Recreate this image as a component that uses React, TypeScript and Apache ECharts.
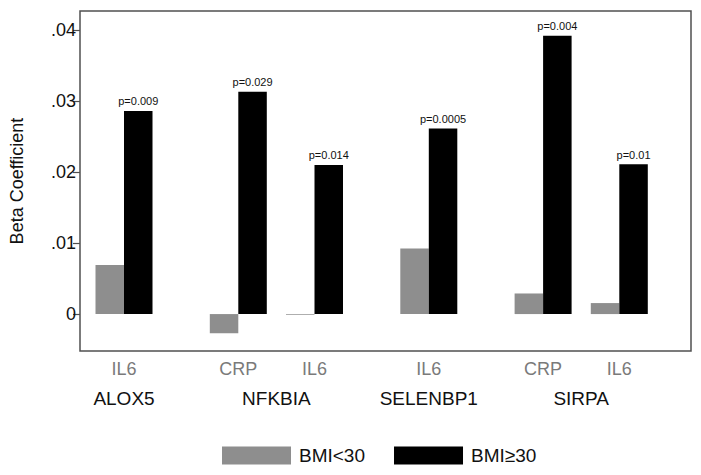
import React, { useEffect, useRef } from "react";
import * as echarts from "echarts";

const outcomeX = [0, 3, 5, 8, 11, 13];
const outcomes = ["IL6", "CRP", "IL6", "IL6", "CRP", "IL6"];
const geneX = [0, 4, 8, 12];
const genes = ["ALOX5", "NFKBIA", "SELENBP1", "SIRPA"];
const bmiLow = [0.0069, -0.0027, -0.0001, 0.00925, 0.0029, 0.00155];
const bmiHigh = [0.0286, 0.0313, 0.021, 0.02615, 0.0392, 0.0211];
const pValues = ["p=0.009", "p=0.029", "p=0.014", "p=0.0005", "p=0.004", "p=0.01"];
const yTicks = [0, 0.01, 0.02, 0.03, 0.04];
const seriesNames = ["BMI<30", "BMI\u226530"];
const SLOTS = 14;

const FONT = "'Liberation Sans', Arial, Helvetica, sans-serif";
const Y_MIN = -0.0052;
const Y_MAX = 0.04268;

const slotIds = Array.from({ length: SLOTS }, (_, i) => "s" + i);
const slotSeries = (vals: number[]) => {
  const arr: (number | null)[] = slotIds.map(() => null);
  outcomeX.forEach((x, i) => {
    arr[x] = vals[i];
  });
  return arr;
};
const outcomeAt = (i: number) => {
  const k = outcomeX.indexOf(i);
  return k >= 0 ? outcomes[k] : "";
};
const geneAt = (i: number) => {
  const k = geneX.indexOf(i);
  return k >= 0 ? genes[k] : "";
};

export default function App() {
  const ref = useRef<HTMLDivElement>(null);
  useEffect(() => {
    if (!ref.current) return;
    const chart = echarts.init(ref.current, undefined, { renderer: "svg" });
    chart.setOption({
      animation: false,
      backgroundColor: "#ffffff",
      textStyle: { fontFamily: FONT },
      grid: [
        {
          left: 71,
          top: 11,
          width: 620,
          height: 340,
          show: true,
          borderColor: "#505050",
          borderWidth: 1.5,
        },
        {
          left: 104.95,
          top: 11,
          width: 533.4,
          height: 340,
          show: false,
        },
      ],
      legend: {
        left: 222,
        top: 446,
        padding: 0,
        itemWidth: 69,
        itemHeight: 18,
        itemGap: 29,
        icon: "rect",
        textStyle: { fontSize: 19, color: "#111", fontFamily: FONT, padding: [0, 0, 0, 3] },
        data: seriesNames,
      },
      xAxis: [
        {
          type: "value",
          gridIndex: 0,
          min: 0,
          max: 1,
          show: false,
        },
        {
          type: "category",
          gridIndex: 1,
          data: slotIds,
          boundaryGap: true,
          axisLine: { show: false },
          axisTick: { show: false },
          splitLine: { show: false },
          axisLabel: {
            interval: 0,
            formatter: (_v: string, i: number) => outcomeAt(i),
            fontSize: 18,
            color: "#7a7a7a",
            margin: 9,
            fontFamily: FONT,
          },
        },
        {
          type: "category",
          gridIndex: 1,
          position: "bottom",
          offset: 30,
          data: slotIds,
          boundaryGap: true,
          axisLine: { show: false },
          axisTick: { show: false },
          splitLine: { show: false },
          axisLabel: {
            interval: 0,
            formatter: (_v: string, i: number) => geneAt(i),
            fontSize: 19,
            color: "#111",
            margin: 8,
            fontFamily: FONT,
          },
        },
      ],
      yAxis: [
        {
          type: "value",
          gridIndex: 0,
          min: Y_MIN,
          max: Y_MAX,
          name: "Beta Coefficient",
          nameLocation: "middle",
          nameRotate: 90,
          nameGap: 54,
          nameTextStyle: { fontSize: 18, color: "#111", fontFamily: FONT },
          axisLine: { show: false, onZero: false },
          splitLine: { show: false },
          axisTick: {
            show: true,
            customValues: yTicks,
            length: 7,
            lineStyle: { color: "#505050", width: 1.2 },
          },
          axisLabel: {
            customValues: yTicks,
            formatter: (v: number) =>
              v === 0 ? "0" : String(+v.toFixed(2)).replace(/^0/, ""),
            fontSize: 18,
            color: "#111",
            margin: 4,
            fontFamily: FONT,
          },
        },
        {
          type: "value",
          gridIndex: 1,
          min: Y_MIN,
          max: Y_MAX,
          show: false,
          splitLine: { show: false },
        },
      ],
      series: [
        {
          name: seriesNames[0],
          type: "bar",
          xAxisIndex: 1,
          yAxisIndex: 1,
          clip: false,
          barWidth: 28.5,
          barGap: "0%",
          itemStyle: { color: "#8e8e8e" },
          data: slotSeries(bmiLow),
        },
        {
          name: seriesNames[1],
          type: "bar",
          xAxisIndex: 1,
          yAxisIndex: 1,
          clip: false,
          barWidth: 28.5,
          barGap: "0%",
          itemStyle: { color: "#000000" },
          label: {
            show: true,
            position: "top",
            distance: 4,
            fontSize: 11,
            color: "#111",
            fontFamily: FONT,
            formatter: (p: any) => pValues[outcomeX.indexOf(p.dataIndex)] ?? "",
          },
          data: slotSeries(bmiHigh),
        },
      ],
    });
    return () => chart.dispose();
  }, []);
  return (
    <div
      ref={ref}
      style={{ position: "fixed", left: 0, top: 0, width: 701, height: 475, background: "#fff" }}
    />
  );
}
